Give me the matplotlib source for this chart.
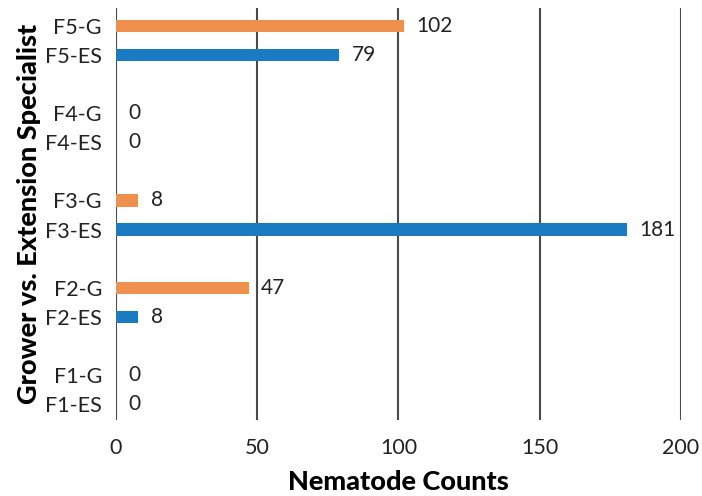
import matplotlib
matplotlib.use("Agg")
import matplotlib.pyplot as plt
import numpy as np

farms = ["F1", "F2", "F3", "F4", "F5"]
es_values = [0, 8, 181, 0, 79]
g_values = [0, 47, 8, 0, 102]
xticks = [0, 50, 100, 150, 200]

orange = "#F0904F"
blue = "#1B7BC2"

plt.rcParams['font.family'] = ['Lato', 'DejaVu Sans']

fig = plt.figure(figsize=(7.02, 4.96), dpi=100)
ax = fig.add_axes([0.165, 0.153, 0.805, 0.83])

pos_es = [3 * i for i in range(len(farms))]
pos_g = [3 * i + 1 for i in range(len(farms))]
h = 0.42
ax.barh(pos_es, es_values, height=h, color=blue, zorder=3)
ax.barh(pos_g, g_values, height=h, color=orange, zorder=3)

for p, v in zip(pos_es, es_values):
    ax.annotate(str(v), (v, p), xytext=(9, 0), textcoords="offset points",
                va="center", ha="left", fontsize=15, color="#222222")
for p, v in zip(pos_g, g_values):
    ax.annotate(str(v), (v, p), xytext=(9, 0), textcoords="offset points",
                va="center", ha="left", fontsize=15, color="#222222")

yt = []
yl = []
for i, f in enumerate(farms):
    yt += [pos_es[i], pos_g[i]]
    yl += [f + "-ES", f + "-G"]
ax.set_yticks(yt)
ax.set_yticklabels(yl, fontsize=15.5)
ax.set_xticks(xticks)
ax.set_xticklabels([str(t) for t in xticks], fontsize=15.5)
ax.set_xlim(0, 200)
ax.set_ylim(-0.55, 13.6)

for s in ax.spines.values():
    s.set_visible(False)
ax.tick_params(axis='both', length=0, colors="#222222")
ax.tick_params(axis='x', pad=13)
ax.tick_params(axis='y', pad=10)
ax.xaxis.grid(True, color="#4a4a4a", linewidth=1.5, zorder=0)
ax.set_axisbelow(True)

ax.set_xlabel("Nematode Counts", fontsize=19.5, fontweight="black")
ax.set_ylabel("Grower vs. Extension Specialist", fontsize=19.5, fontweight="black")
ax.xaxis.set_label_coords(0.5, -0.12)
ax.yaxis.set_label_coords(-0.132, 0.5)

fig.savefig("out.png", dpi=100)
